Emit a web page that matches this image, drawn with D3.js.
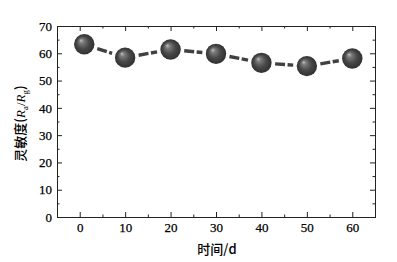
<!DOCTYPE html>
<html><head><meta charset="utf-8">
<script src="https://cdn.jsdelivr.net/npm/d3@7"></script>
<style>body{margin:0;background:#fff}svg{display:block}</style>
</head><body>
<script>
const days = [1, 10, 20, 30, 40, 50, 60];
const sensitivity = [63.3, 58.4, 61.4, 59.8, 56.5, 55.3, 58.1];
const xTicks = [0, 10, 20, 30, 40, 50, 60];
const yTicks = [0, 10, 20, 30, 40, 50, 60, 70];

const W = 397, H = 262;
const m = {l: 57, r: 22, t: 26, b: 45};
const svg = d3.select("body").append("svg").attr("width", W).attr("height", H);
const x = d3.scaleLinear().domain([-5, 65]).range([m.l, W - m.r]);
const y = d3.scaleLinear().domain([0, 70]).range([H - m.b, m.t]);

const defs = svg.append("defs");
const g = defs.append("radialGradient").attr("id", "ball").attr("cx", "0.5").attr("cy", "0.5").attr("r", "0.5")
  .attr("fx", "0.33").attr("fy", "0.3");
g.append("stop").attr("offset", "0").attr("stop-color", "#c0c0c0");
g.append("stop").attr("offset", "0.22").attr("stop-color", "#7a7a7a");
g.append("stop").attr("offset", "0.6").attr("stop-color", "#484848");
g.append("stop").attr("offset", "1").attr("stop-color", "#303030");

const serif = "'Liberation Serif','DejaVu Serif',serif";
const fs = 13;

function axis(gen, tr) {
  const a = svg.append("g").attr("transform", tr).call(gen);
  a.select(".domain").attr("stroke", "#222").attr("stroke-width", 1);
  a.selectAll("line").attr("stroke", "#222");
  a.selectAll("text").attr("font-family", serif).attr("font-size", fs).attr("fill", "#000")
    .attr("stroke", "#000").attr("stroke-width", 0.25);
  return a;
}
const xMinor = d3.range(-5, 66, 5).filter(v => v % 10 !== 0 && v > -5 && v < 65);
const yMinor = d3.range(5, 70, 10);
axis(d3.axisBottom(x).tickValues(xTicks).tickSize(-5).tickPadding(6).tickFormat(d3.format("d")), `translate(0,${H - m.b})`);
axis(d3.axisBottom(x).tickValues(xMinor).tickSize(-2.5).tickFormat(""), `translate(0,${H - m.b})`);
axis(d3.axisTop(x).tickValues(xTicks).tickSize(-5).tickFormat(""), `translate(0,${m.t})`);
axis(d3.axisTop(x).tickValues(xMinor).tickSize(-2.5).tickFormat(""), `translate(0,${m.t})`);
axis(d3.axisLeft(y).tickValues(yTicks).tickSize(-5).tickPadding(5).tickFormat(d3.format("d")), `translate(${m.l},0)`);
axis(d3.axisLeft(y).tickValues(yMinor).tickSize(-2.5).tickFormat(""), `translate(${m.l},0)`);
axis(d3.axisRight(y).tickValues(yTicks).tickSize(-5).tickFormat(""), `translate(${W - m.r},0)`);
axis(d3.axisRight(y).tickValues(yMinor).tickSize(-2.5).tickFormat(""), `translate(${W - m.r},0)`);

const pts = days.map((d, i) => [d, sensitivity[i]]);
const R = 10.2, gap = 3.5;
const segs = d3.pairs(pts).map(([a, b]) => {
  const x1 = x(a[0]), y1 = y(a[1]), x2 = x(b[0]), y2 = y(b[1]);
  const L = Math.hypot(x2 - x1, y2 - y1), ux = (x2 - x1) / L, uy = (y2 - y1) / L, o = R + gap;
  return [[x1 + ux * o, y1 + uy * o], [x2 - ux * o, y2 - uy * o]];
});
svg.selectAll("path.seg").data(segs).enter().append("path")
  .attr("d", d3.line())
  .attr("fill", "none").attr("stroke", "#404040").attr("stroke-width", 3.4)
  .attr("stroke-dasharray", "10,2.5");

svg.selectAll("circle.b").data(pts).enter().append("circle")
  .attr("cx", d => x(d[0])).attr("cy", d => y(d[1])).attr("r", R)
  .attr("fill", "url(#ball)");

svg.append("text").attr("x", x(30) + 1).attr("y", 254).attr("text-anchor", "middle")
  .attr("font-family", "'Noto Sans CJK SC',sans-serif").attr("font-size", 13).attr("font-weight", 500).attr("fill", "#000")
  .text("时间/d");

const yt = svg.append("text").attr("transform", `translate(25,${(m.t + H - m.b) / 2 + 2}) rotate(-90)`)
  .attr("text-anchor", "middle").attr("font-family", "'Noto Sans CJK SC',sans-serif").attr("font-size", 13).attr("font-weight", 500).attr("fill", "#000");
yt.append("tspan").text("灵敏度(");
yt.append("tspan").attr("font-family", serif).attr("font-style", "italic").text("R");
yt.append("tspan").attr("font-family", serif).attr("font-size", 9).attr("dy", 3).text("a");
yt.append("tspan").attr("font-family", serif).attr("dy", -3).text("/");
yt.append("tspan").attr("font-family", serif).attr("font-style", "italic").text("R");
yt.append("tspan").attr("font-family", serif).attr("font-size", 9).attr("dy", 3).text("g");
yt.append("tspan").attr("dy", -3).text(")");
</script>
</body></html>
